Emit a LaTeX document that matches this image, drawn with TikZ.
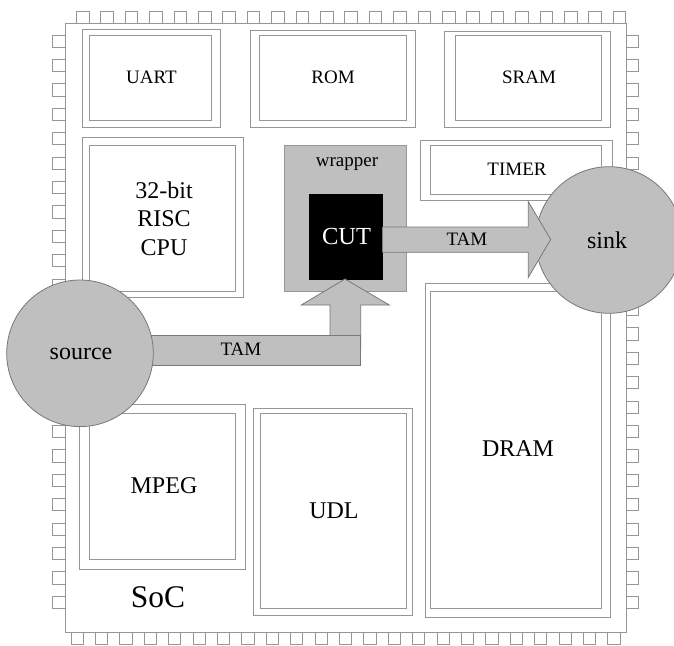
\documentclass[tikz,border=0pt]{standalone}
\usepackage{fontspec}
\setmainfont{Liberation Serif}
\definecolor{ln}{HTML}{969696}
\definecolor{gr}{HTML}{BFBFBF}
\newcommand{\fs}[1]{\fontsize{#1pt}{#1pt}\selectfont}
% named rectangle with corners (x1,y1) (x2,y2)
\newcommand{\rbox}[6][]{\node[box,#1,minimum width={(#4-#2)*1pt},minimum height={(#5-#3)*1pt}] (#6) at ({(#2+#4)/2},{(#3+#5)/2}) {};}
\tikzset{
  box/.style={draw=ln,line width=1pt,inner sep=0pt,outer sep=0pt,rectangle},
  pinbox/.style={draw=ln,line width=1pt},
  tam/.style={draw=ln!80!black,line width=0.8pt,fill=gr,line join=miter},
  disc/.style={circle,draw=ln!80!black,line width=0.8pt,fill=gr,minimum size=146.6pt,inner sep=0pt,outer sep=0pt},
  lab/.style={inner sep=0pt,text=black,align=center}
}
\begin{document}
\begin{tikzpicture}[x=1pt,y=-1pt]
\useasboundingbox (0,0) rectangle (674,645);
\fill[white] (0,0) rectangle (674,645);
% pins
\foreach \k in {0,...,22}{
  \draw[pinbox] ({76.5+\k*24.4},23) rectangle ({89+\k*24.4},11.5);
  \draw[pinbox] ({71+\k*24.4},632) rectangle ({83.3+\k*24.4},644);
}
\foreach \k in {0,...,23}{
  \draw[pinbox] (65,{35+\k*24.4}) rectangle (52.3,{47.3+\k*24.4});
  \draw[pinbox] (626,{35+\k*24.4}) rectangle (638.3,{47.3+\k*24.4});
}
% chip
\rbox[fill=white]{65}{23}{626}{632}{chip}
% blocks
\rbox{82}{29.5}{220.5}{127}{uartO}
\rbox{89}{35.5}{211.5}{120.5}{uart}
\rbox{250.5}{30.5}{415.7}{127}{romO}
\rbox{259.5}{35.5}{406.7}{120.5}{rom}
\rbox{444.3}{31}{610.7}{127.5}{sramO}
\rbox{455}{35.5}{601.7}{120.5}{sram}
\rbox{82}{137}{243}{297.5}{cpuO}
\rbox{89}{145}{235.5}{291}{cpu}
\rbox{420}{140.5}{612.7}{200}{timerO}
\rbox{430.3}{145}{601.7}{194}{timer}
\rbox{425.3}{283}{610.7}{617.3}{dramO}
\rbox{430.3}{291}{601.7}{608.3}{dram}
\rbox{253}{408.7}{412}{615.3}{udlO}
\rbox{260}{413.3}{406.7}{608.3}{udl}
\rbox{79}{404}{245.3}{569.3}{mpegO}
\rbox{89}{413.3}{235.7}{559.3}{mpeg}
% wrapper and CUT
\rbox[fill=gr]{284.5}{145}{406.7}{291}{wrap}
\rbox[fill=black,draw=black]{309}{194}{382.3}{279}{cut}
% discs
\node[disc] (sink) at (609,240) {};
% TAM path
\draw[tam] (330,336) -- (330,305) -- (301.3,305) -- (345,279) -- (389.3,305) -- (360.7,305) -- (360.7,348);
\draw[tam] (80,335) -- (360,335) -- (360,365.5) -- (80,365.5) -- cycle;
\draw[tam] (382.3,227) -- (528.3,227) -- (528.3,201.7) -- (550.7,239.5) -- (528.3,277.3) -- (528.3,252.3) -- (382.3,252.3);
\node[disc] (source) at (80,353.3) {};
% labels
\node[lab,font=\fs{19}] (uartT) at (151.5,77.5) {UART};
\node[lab,font=\fs{19}] (romT) at (333,77.5) {ROM};
\node[lab,font=\fs{19}] (sramT) at (529,77.5) {SRAM};
\node[lab,font=\fs{19}] (timerT) at (517,169) {TIMER};
\node[lab,font=\fontsize{24pt}{28.7pt}\selectfont,text width=100pt] (cpuT) at (164,218.5) {32-bit\\RISC\\CPU};
\node[lab,font=\fs{19}] (wrapT) at (347,164.5) {wrapper};
\node[lab,font=\fs{24.5},text=white] (cutT) at (346.5,236.5) {CUT};
\node[lab,font=\fs{19}] (tam1) at (467,239.5) {TAM};
\node[lab,font=\fs{19}] (tam2) at (241,349.5) {TAM};
\node[lab,font=\fs{24}] (sinkT) at (607,240.5) {sink};
\node[lab,font=\fs{24}] (sourceT) at (81,354) {source};
\node[lab,font=\fs{24}] (dramT) at (518,449) {DRAM};
\node[lab,font=\fs{24}] (udlT) at (334,511) {UDL};
\node[lab,font=\fs{24}] (mpegT) at (164,486) {MPEG};
\node[lab,font=\fs{31.5}] (socT) at (158,597.5) {SoC};
\end{tikzpicture}
\end{document}
